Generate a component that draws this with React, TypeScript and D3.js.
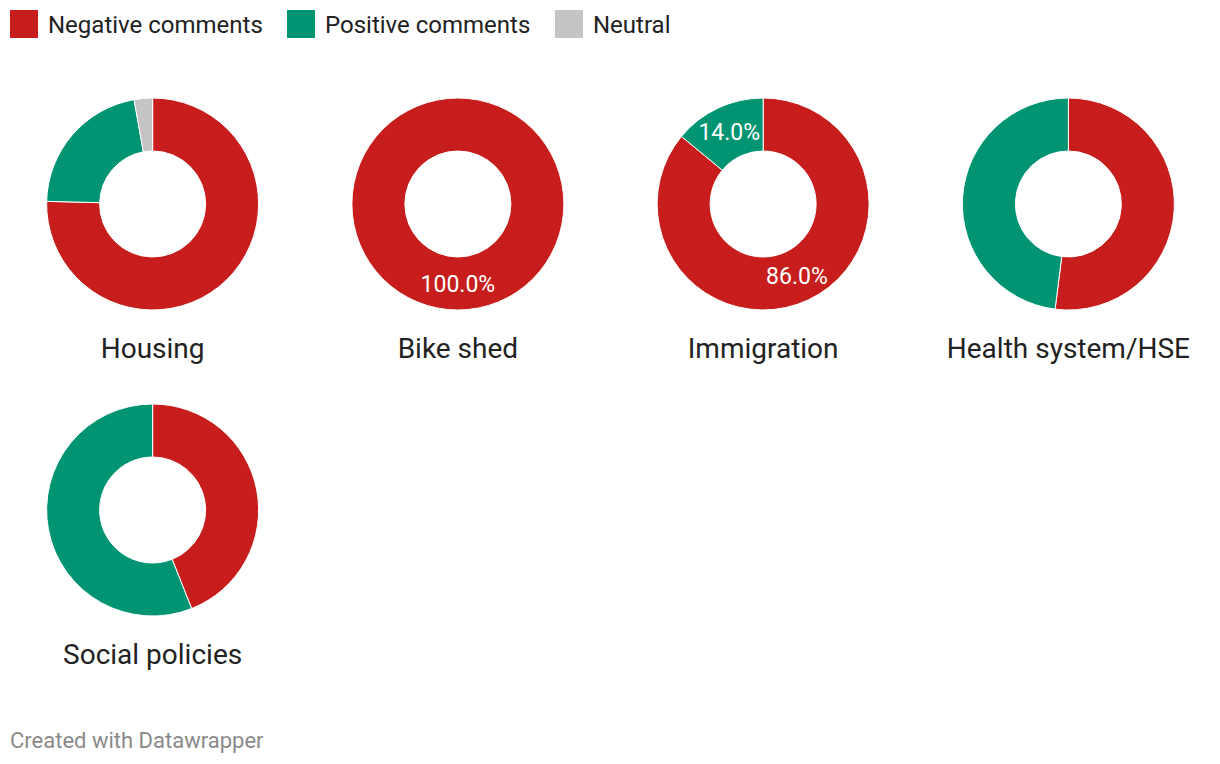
import React from "react";
import * as d3 from "d3";

const seriesNames = ["Negative comments", "Positive comments", "Neutral"];
const seriesColors = ["#c71e1d", "#009473", "#c4c4c4"];
const topics = ["Housing", "Bike shed", "Immigration", "Health system/HSE", "Social policies"];
const negative = [75.4, 100, 86, 52, 44];
const positive = [21.8, 0, 14, 48, 56];
const neutral = [2.8, 0, 0, 0, 0];
const showValueLabels = [false, true, true, false, false];

const W = 1220;
const H = 764;

export default function App() {
  const cols = 4;
  const colX = d3.scaleBand<number>().domain(d3.range(cols)).range([0, 1221]);
  const rowY = d3.scaleBand<number>().domain([0, 1]).range([51, 663]);
  const outerR = 106;
  const innerR = 53;
  const pie = d3.pie<number>().sort(null).value((d) => d);
  const arc = d3.arc<d3.PieArcDatum<number>>().innerRadius(innerR).outerRadius(outerR);

  const legendX = [10, 287, 555];

  return (
    <svg width={W} height={H} style={{ position: "absolute", left: 0, top: 0, fontFamily: "Roboto, sans-serif" }}>
      <rect width={W} height={H} fill="#fff" />
      {seriesNames.map((n, i) => (
        <g key={n} transform={`translate(${legendX[i]},10)`}>
          <rect width={28} height={28} fill={seriesColors[i]} />
          <text x={38} y={22.5} fontSize={24} fill="#222">{n}</text>
        </g>
      ))}
      {topics.map((t, i) => {
        const vals = [negative[i], positive[i], neutral[i]];
        const arcs = pie(vals);
        const cx = (colX(i % cols) ?? 0) + colX.bandwidth() / 2 + 0;
        const cy = (rowY(Math.floor(i / cols)) ?? 0) + 153;
        return (
          <g key={t} transform={`translate(${cx},${cy})`}>
            {arcs.map((a, j) =>
              a.value > 0 ? (
                <path key={j} d={arc(a) ?? ""} fill={seriesColors[j]} stroke="#fff" strokeWidth={1} />
              ) : null
            )}
            {showValueLabels[i] &&
              arcs.map((a, j) => {
                if (a.value <= 0) return null;
                const [lx, ly] = arc.centroid(a);
                return (
                  <text key={"l" + j} x={lx} y={ly} dy="0.35em" textAnchor="middle" fontSize={23} fill="#fff">
                    {d3.format(".1f")(a.value) + "%"}
                  </text>
                );
              })}
            <text x={0} y={154} textAnchor="middle" fontSize={28} fill="#222">{t}</text>
          </g>
        );
      })}
      <text x={10} y={748} fontSize={22} fill="#8a8a8a">Created with Datawrapper</text>
    </svg>
  );
}
